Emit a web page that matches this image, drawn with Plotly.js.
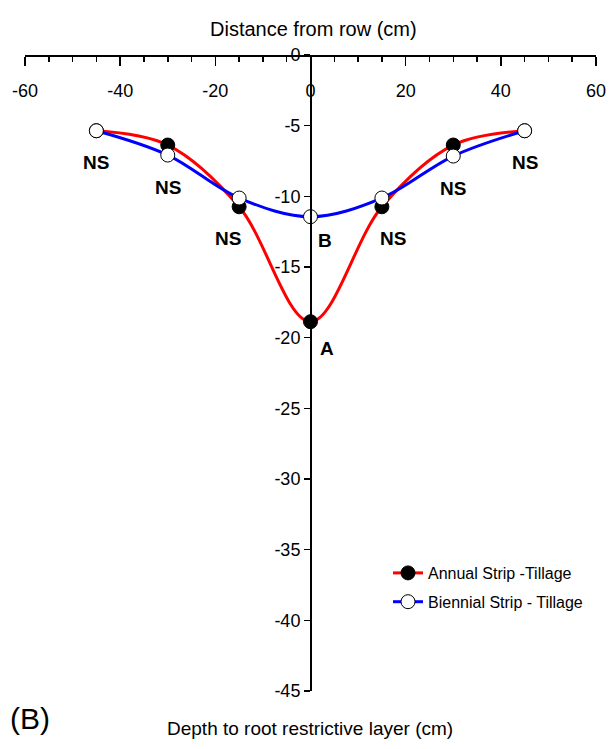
<!DOCTYPE html>
<html>
<head>
<meta charset="utf-8">
<script src="https://cdn.plot.ly/plotly-3.0.1.min.js"></script>
<style>html,body{margin:0;padding:0;background:#fff;overflow:hidden;}#chart{width:613px;height:749px;}</style>
</head>
<body>
<div id="chart"></div>
<script>
// Data
const distance = [-45, -30, -15, 0, 15, 30, 45];
const annualDepth = [-5.36, -6.37, -10.74, -18.87, -10.74, -6.37, -5.36];
const biennialDepth = [-5.36, -7.08, -10.12, -11.44, -10.12, -7.15, -5.36];
const seriesNames = ["Annual Strip -Tillage", "Biennial Strip - Tillage"];
const xTicks = [-60, -40, -20, 0, 20, 40, 60];
const yTicks = [0, -5, -10, -15, -20, -25, -30, -35, -40, -45];
// significance labels
const sigX = [-45, -30, -15, 15, 30, 45];
const sigY = [-5.36, -7.08, -10.74, -10.74, -7.15, -5.36];
const sigText = ["NS", "NS", "NS", "NS", "NS", "NS"];
const letterX = [0, 0];
const letterY = [-11.44, -18.87];
const letterText = ["B", "A"];
const xTitle = "Distance from row (cm)";
const yTitle = "Depth to root restrictive layer (cm)";
const panelLabel = "(B)";

const FONT = "Liberation Sans, Arial, Helvetica, sans-serif";

const traces = [
  {
    x: distance, y: annualDepth, name: seriesNames[0], legendgroup: "a", type: "scatter", mode: "lines+markers",
    line: {color: "#ff0000", width: 3, shape: "spline", smoothing: 1},
    marker: {color: "#000000", size: 14, line: {color: "#000000", width: 1}}
  },
  {
    x: distance, y: biennialDepth, name: seriesNames[1], legendgroup: "b", type: "scatter", mode: "lines+markers",
    line: {color: "#0000ff", width: 3, shape: "spline", smoothing: 1},
    marker: {color: "#ffffff", size: 14, line: {color: "#000000", width: 1}}
  }
];

const W = 613, H = 749, ml = 25, mr = 17, mt = 55, mb = 58;
const pw = W - ml - mr, ph = H - mt - mb;
const px2x = p => (p - ml) / pw;
const py2y = p => (H - mb - p) / ph;

const sigShift = [0, 0, -11, 11, 0, 0];
const annotations = [];
sigX.forEach((x, i) => {
  annotations.push({x: x, y: sigY[i], text: "<b>" + sigText[i] + "</b>", showarrow: false,
    xref: "x", yref: "y", yshift: -32, xshift: sigShift[i], xanchor: "center", yanchor: "middle",
    font: {family: FONT, size: 19, color: "#000"}});
});
annotations.push({x: letterX[0], y: letterY[0], text: "<b>" + letterText[0] + "</b>", showarrow: false,
  xref: "x", yref: "y", xshift: 14, yshift: -24, xanchor: "center", yanchor: "middle",
  font: {family: FONT, size: 19, color: "#000"}});
annotations.push({x: letterX[1], y: letterY[1], text: "<b>" + letterText[1] + "</b>", showarrow: false,
  xref: "x", yref: "y", xshift: 16, yshift: -27, xanchor: "center", yanchor: "middle",
  font: {family: FONT, size: 19, color: "#000"}});
annotations.push({x: px2x(313), y: py2y(29), xref: "paper", yref: "paper", showarrow: false, text: xTitle,
  xanchor: "center", yanchor: "middle", font: {family: FONT, size: 20, color: "#000"}});
annotations.push({x: px2x(310), y: py2y(728), xref: "paper", yref: "paper", showarrow: false, text: yTitle,
  xanchor: "center", yanchor: "middle", font: {family: FONT, size: 19, color: "#000"}});
annotations.push({x: px2x(30), y: py2y(718), xref: "paper", yref: "paper", showarrow: false, text: panelLabel,
  xanchor: "center", yanchor: "middle", font: {family: FONT, size: 30, color: "#000"}});

const layout = {
  width: W, height: H,
  margin: {l: ml, r: mr, t: mt, b: mb},
  paper_bgcolor: "#fff", plot_bgcolor: "#fff",
  font: {family: FONT, color: "#000"},
  showlegend: true,
  legend: {x: px2x(388), y: py2y(556), xanchor: "left", yanchor: "top", traceorder: "grouped",
    bgcolor: "rgba(0,0,0,0)", font: {family: FONT, size: 16, color: "#000"}, tracegroupgap: 5},
  xaxis: {
    range: [-60, 60], anchor: "free", position: 1, side: "bottom",
    showline: true, linecolor: "#000", linewidth: 1.5,
    showgrid: false, zeroline: false, tickvals: xTicks, ticktext: xTicks.map(String),
    ticks: "outside", ticklen: 9, tickwidth: 1.5, tickcolor: "#000", ticklabelstandoff: 10,
    minor: {dtick: 5, ticks: "outside", ticklen: 5, tickwidth: 1.5, tickcolor: "#000"},
    tickfont: {family: FONT, size: 18, color: "#000"}
  },
  yaxis: {
    range: [-45, 0], anchor: "free", position: px2x(310), showline: true, linecolor: "#000", linewidth: 1.5,
    showgrid: false, zeroline: false, tickvals: yTicks, ticktext: yTicks.map(String),
    ticks: "outside", ticklen: 6, tickwidth: 1.5, tickcolor: "#000",
    tickfont: {family: FONT, size: 18, color: "#000"}
  },
  annotations: annotations
};

Plotly.newPlot("chart", traces, layout, {displayModeBar: false, staticPlot: true});
</script>
</body>
</html>
